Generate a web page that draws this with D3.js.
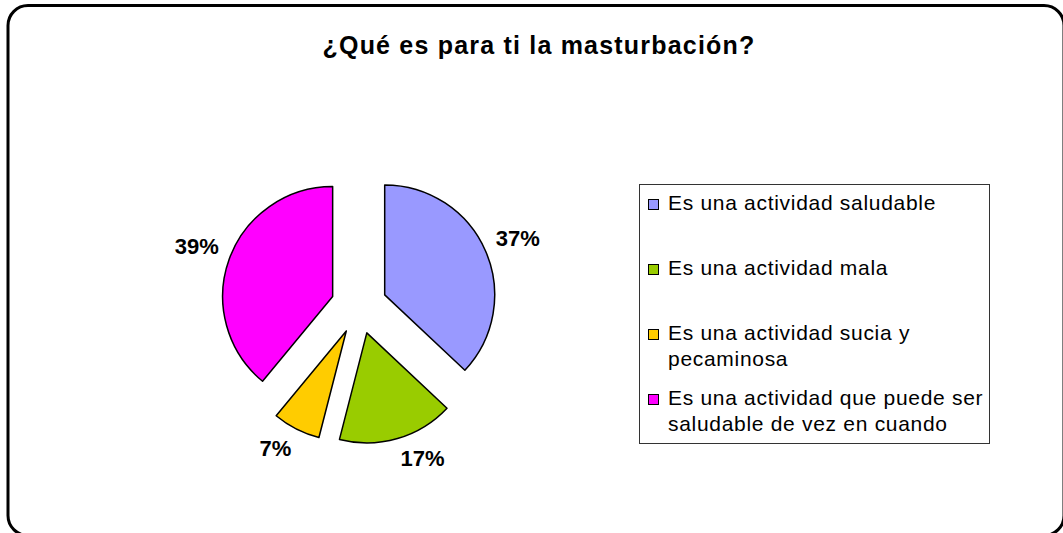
<!DOCTYPE html>
<html>
<head>
<meta charset="utf-8">
<script src="https://cdn.jsdelivr.net/npm/d3@7"></script>
<style>
  body { margin: 0; background: #fff; }
  text { font-family: "Liberation Sans", Arial, sans-serif; }
</style>
</head>
<body>
<div id="viz"></div>
<script>
// chart data
var title = '¿Qué es para ti la masturbación?';
var categories = [
  'Es una actividad saludable',
  'Es una actividad mala',
  'Es una actividad sucia y pecaminosa',
  'Es una actividad que puede ser saludable de vez en cuando'
];
var percents = [37, 17, 7, 39];
var colors = ['#9999FF', '#99CC00', '#FFCC00', '#FF00FF'];

// svg - everything goes on this
var svg = d3.select('#viz').append('svg')
  .attr('width', 1063)
  .attr('height', 533);

// outer rounded frame
svg.append('rect')
  .attr('x', 8)
  .attr('y', 5.5)
  .attr('width', 1056)
  .attr('height', 530)
  .attr('rx', 20)
  .attr('fill', '#fff')
  .attr('stroke', '#000')
  .attr('stroke-width', 3);

// title
svg.append('text')
  .attr('x', 539)
  .attr('y', 54)
  .attr('text-anchor', 'middle')
  .style('font-size', '25px')
  .style('font-weight', 'bold')
  .style('letter-spacing', '1.2px')
  .text(title);

// pie dimensions
var cx = 359, cy = 306;
var radius = 110;
var explode = 28;
var labelGap = 11;

var pie = d3.pie().sort(null).value(function(d) { return d; });
var arc = d3.arc().innerRadius(0).outerRadius(radius);
var slices = pie(percents);

var pieG = svg.append('g')
  .attr('transform', 'translate(' + cx + ',' + cy + ')');

function midDir(d) {
  var a = (d.startAngle + d.endAngle) / 2;
  return [Math.sin(a), -Math.cos(a)];
}

// exploded slices
pieG.selectAll('.slice')
  .data(slices)
  .enter()
  .append('path')
  .attr('class', 'slice')
  .attr('d', arc)
  .attr('transform', function(d) {
    var m = midDir(d);
    return 'translate(' + (m[0] * explode) + ',' + (m[1] * explode) + ')';
  })
  .attr('fill', function(d, i) { return colors[i]; })
  .attr('stroke', '#000')
  .attr('stroke-width', 1.5)
  .attr('stroke-linejoin', 'round');

// percentage labels, box corner sits just outside the arc
var labels = pieG.selectAll('.plabel')
  .data(slices)
  .enter()
  .append('text')
  .attr('class', 'plabel')
  .attr('text-anchor', 'middle')
  .style('font-size', '22px')
  .style('font-weight', 'bold')
  .text(function(d) { return d.data + '%'; });

labels.each(function(d) {
  var t = d3.select(this);
  var bb = this.getBBox();
  var m = midDir(d);
  var r = explode + radius + labelGap;
  var px = m[0] * r, py = m[1] * r;
  var lx = px + (m[0] >= 0 ? 1 : -1) * bb.width / 2;
  var ly = py + (m[1] >= 0 ? 1 : -1) * 9;
  t.attr('x', lx).attr('y', ly).attr('dy', '0.36em');
});

// legend
var legX = 639, legY = 184, legW = 350, legH = 259;
var legend = svg.append('g').attr('class', 'legend');

legend.append('rect')
  .attr('x', legX + 0.5)
  .attr('y', legY + 0.5)
  .attr('width', legW)
  .attr('height', legH)
  .attr('fill', '#fff')
  .attr('stroke', '#333')
  .attr('stroke-width', 1);

var rowStep = 65, lineStep = 26, firstBase = 210, maxTextW = 328;

categories.forEach(function(name, i) {
  var base = firstBase + i * rowStep;
  legend.append('rect')
    .attr('x', legX + 9.5)
    .attr('y', base - 10.5)
    .attr('width', 10)
    .attr('height', 10)
    .attr('fill', colors[i])
    .attr('stroke', '#000')
    .attr('stroke-width', 1);

  var txt = legend.append('text')
    .attr('x', legX + 29)
    .attr('y', base)
    .style('font-size', '21px')
    .style('letter-spacing', '0.7px');

  // simple word wrap
  var words = name.split(' ');
  var line = [];
  var lineNo = 0;
  var tspan = txt.append('tspan').attr('x', legX + 29).attr('y', base);
  words.forEach(function(w) {
    line.push(w);
    tspan.text(line.join(' '));
    if (tspan.node().getComputedTextLength() > maxTextW && line.length > 1) {
      line.pop();
      tspan.text(line.join(' '));
      line = [w];
      lineNo++;
      tspan = txt.append('tspan')
        .attr('x', legX + 29)
        .attr('y', base + lineNo * lineStep)
        .text(w);
    }
  });
});
</script>
</body>
</html>
